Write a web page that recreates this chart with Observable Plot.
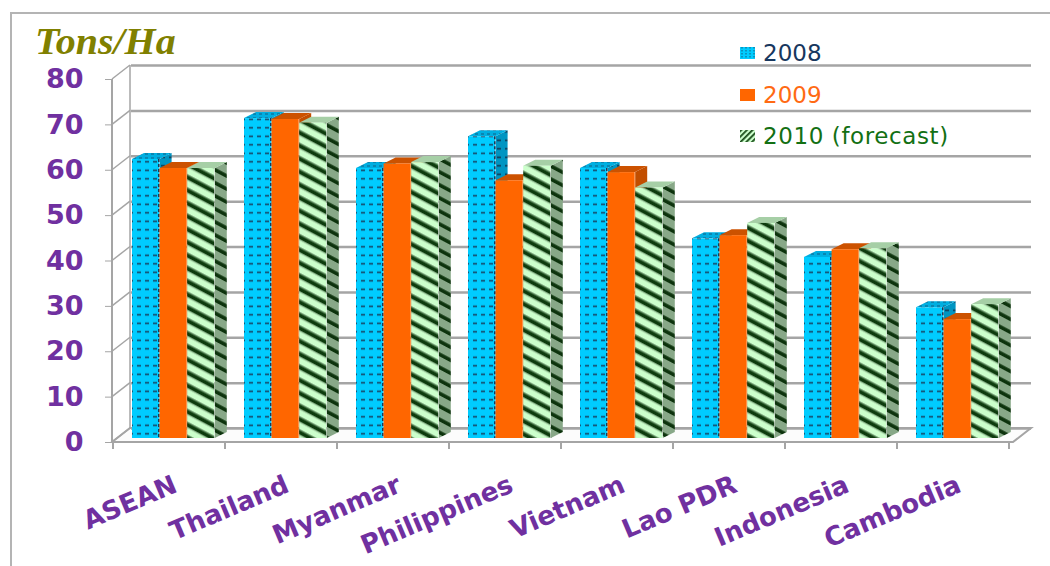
<!DOCTYPE html>
<html>
<head>
<meta charset="utf-8">
<script src="https://cdn.jsdelivr.net/npm/d3@7"></script>
<script src="https://cdn.jsdelivr.net/npm/@observablehq/plot@0.6"></script>
<style>
  body { margin: 0; background: #fff; }
  #wrap { position: relative; width: 1050px; height: 566px; overflow: hidden; background: #fff; }
  #frame { position: absolute; left: 10px; top: 12px; width: 1200px; height: 700px;
           border-left: 2px solid #b4b4b4; border-top: 2px solid #b4b4b4; }
  #title { position: absolute; left: 35px; top: 20px; line-height: 1; transform: scaleX(1.08); transform-origin: left top;
           font: italic bold 37px "Liberation Serif", "DejaVu Serif", serif; color: #808000; }
  #legend { position: absolute; left: 740px; top: 32px; font-family: "DejaVu Sans", sans-serif; font-size: 23px; }
  .item { display: flex; align-items: center; height: 41.7px; white-space: nowrap; }
  .item svg { margin-right: 8px; }
  #chart { position: absolute; left: 0; top: 0; }
</style>
</head>
<body>
<svg width="0" height="0" style="position:absolute">
  <defs>
    <pattern id="p2008" patternUnits="userSpaceOnUse" width="8" height="8.5">
      <rect width="8" height="8.5" fill="#00ccff"/>
      <rect x="1" y="3.5" width="4" height="1.6" fill="#1b2b48" opacity="0.85"/>
    </pattern>
    <pattern id="p2008side" patternUnits="userSpaceOnUse" width="8" height="8.5">
      <rect width="8" height="8.5" fill="#0095c2"/>
      <rect x="1" y="3.5" width="4" height="1.6" fill="#10203a" opacity="0.8"/>
    </pattern>
    <pattern id="p2008top" patternUnits="userSpaceOnUse" width="6" height="4">
      <rect width="6" height="4" fill="#00aee0"/>
      <rect x="1" y="1.5" width="3" height="1" fill="#1b2b48" opacity="0.6"/>
    </pattern>
    <pattern id="p2010" patternUnits="userSpaceOnUse" width="12" height="11.5" patternTransform="rotate(28)">
      <rect width="12" height="11.5" fill="#ccffcc"/>
      <rect y="0" width="12" height="1.2" fill="#7fa97f"/>
      <rect y="1.2" width="12" height="3.6" fill="#0d3b0d"/>
      <rect y="4.8" width="12" height="1.2" fill="#7fa97f"/>
    </pattern>
    <pattern id="p2010side" patternUnits="userSpaceOnUse" width="12" height="11.5" patternTransform="rotate(28)">
      <rect width="12" height="11.5" fill="#88a888"/>
      <rect y="1.2" width="12" height="3.6" fill="#0d330d"/>
    </pattern>
    <pattern id="pleg2008" patternUnits="userSpaceOnUse" width="4" height="3">
      <rect width="4" height="3" fill="#00ccff"/>
      <rect x="1.5" y="0" width="1" height="1.5" fill="#1b2b48" opacity="0.7"/>
    </pattern>
    <pattern id="pleg2010" patternUnits="userSpaceOnUse" width="4" height="4" patternTransform="rotate(-45)">
      <rect width="4" height="4" fill="#ccffcc"/>
      <rect y="0" width="4" height="1.8" fill="#1a4d1a"/>
    </pattern>
  </defs>
</svg>
<div id="wrap">
  <div id="frame"></div>
  <div id="title">Tons/Ha</div>
  <div id="legend"></div>
</div>
<script>
// ---------- data ----------
const categories = ["ASEAN", "Thailand", "Myanmar", "Philippines", "Vietnam", "Lao PDR", "Indonesia", "Cambodia"];
const years = ["2008", "2009", "2010 (forecast)"];
const v2008 = [61.5, 70.5, 59.5, 66.5, 59.5, 44.0, 39.9, 28.8];
const v2009 = [59.5, 70.3, 60.5, 56.8, 58.6, 44.7, 41.6, 26.2];
const v2010 = [59.5, 69.5, 60.8, 60.0, 55.2, 47.4, 41.8, 29.5];
const yTicks = [0, 10, 20, 30, 40, 50, 60, 70, 80];

// ---------- styles ----------
const seriesStyle = [
  {front: "url(#p2008)", side: "url(#p2008side)", top: "url(#p2008top)", text: "#17375e", swatch: "url(#pleg2008)"},
  {front: "#ff6600", side: "#c24e00", top: "#cc5200", text: "#ff6a13", swatch: "#ff6600"},
  {front: "url(#p2010)", side: "url(#p2010side)", top: "#a6cfa6", text: "#137013", swatch: "url(#pleg2010)"}
];
const seriesValues = [v2008, v2009, v2010];

const W = 1050, H = 566;
const ML = 113, MR = 37, MT = 79, MB = 124;
const band = (W - ML - MR) / categories.length;
const BAR_OFF = 17, BAR_W = 27.6, BAR_DY = -4;
const BDX = 12, BDY = -6;      // bar depth
const WX = 18, WY = -14;        // wall depth
const GRID = "#a5a5a5";
const PURPLE = "#7030a0";

const barMarks = seriesValues.map((vals, i) =>
  Plot.barY(categories.map((c, j) => ({category: c, value: vals[j]})), {
    x: "category", y: "value",
    fill: seriesStyle[i].front,
    insetLeft: BAR_OFF + i * BAR_W,
    insetRight: band - (BAR_OFF + (i + 1) * BAR_W),
    dy: BAR_DY
  })
);

const chart = Plot.plot({
  width: W, height: H,
  marginLeft: ML, marginRight: MR, marginTop: MT, marginBottom: MB,
  style: {background: "transparent", overflow: "visible"},
  x: {type: "band", domain: categories, padding: 0, axis: null},
  y: {domain: [0, 80], axis: null},
  marks: [
    Plot.ruleY(yTicks, {dx: WX, dy: WY, stroke: GRID, strokeWidth: 2.5}),
    ...barMarks,
    Plot.axisY({ticks: yTicks, tickSize: 8, tickPadding: 22, stroke: GRID, fill: PURPLE, label: null,
                fontSize: 27, fontWeight: "bold", fontFamily: "DejaVu Sans", tickFormat: d => d}),
    Plot.text(categories, {x: d => d, frameAnchor: "bottom", dy: 41, dx: 4, rotate: -23,
                textAnchor: "end", lineAnchor: "middle", fill: PURPLE,
                fontSize: 26, fontWeight: "bold", fontFamily: "DejaVu Sans"})
  ]
});
chart.id = "chart";
document.getElementById("wrap").insertBefore(chart, document.getElementById("title"));

// ---------- 3D decoration using Plot's own scales ----------
const xs = chart.scale("x"), ys = chart.scale("y");
const bw = xs.bandwidth;
const x0 = xs.range[0] - 1, x1 = xs.range[1];
const yb = ys.apply(0), yt = ys.apply(80);
const pts = a => a.map(p => p.join(",")).join(" ");

const walls = d3.create("svg:g").attr("aria-label", "walls");
walls.append("polygon")
  .attr("points", pts([[x0, yb], [x1, yb], [x1 + WX, yb + WY], [x0 + WX, yb + WY]]))
  .attr("fill", "#fcfcfc").attr("stroke", GRID).attr("stroke-width", 2);
walls.append("line").attr("x1", x0 + WX).attr("x2", x0 + WX)
  .attr("y1", yt + WY).attr("y2", yb + WY).attr("stroke", GRID).attr("stroke-width", 1.5);
walls.append("line").attr("x1", x0).attr("x2", x0)
  .attr("y1", yt).attr("y2", yb).attr("stroke", GRID).attr("stroke-width", 2);
for (const t of yTicks) {
  walls.append("line").attr("x1", x0).attr("y1", ys.apply(t))
    .attr("x2", x0 + WX).attr("y2", ys.apply(t) + WY).attr("stroke", GRID).attr("stroke-width", 1.5);
}
for (let k = 0; k <= categories.length; k++) {
  const xk = xs.range[0] + k * bw;
  walls.append("line").attr("x1", xk).attr("x2", xk).attr("y1", yb).attr("y2", yb + 7)
    .attr("stroke", GRID).attr("stroke-width", 2);
}
const firstG = chart.querySelector("g");
chart.insertBefore(walls.node(), firstG);

const barGroups = chart.querySelectorAll('g[aria-label="bar"]');
seriesValues.forEach((vals, i) => {
  const g = d3.create("svg:g").attr("aria-label", "bar-3d");
  categories.forEach((c, j) => {
    const l = xs.apply(c) + BAR_OFF + i * BAR_W;
    const r = l + BAR_W;
    const top = ys.apply(vals[j]) + BAR_DY;
    const bot = yb + BAR_DY;
    g.append("polygon").attr("points", pts([[r, top], [r + BDX, top + BDY], [r + BDX, bot + BDY], [r, bot]]))
      .attr("fill", seriesStyle[i].side);
    g.append("polygon").attr("points", pts([[l, top], [r, top], [r + BDX, top + BDY], [l + BDX, top + BDY]]))
      .attr("fill", seriesStyle[i].top);
  });
  chart.insertBefore(g.node(), barGroups[i]);
});

// dotted right edge on the 2008 front faces
const edge = d3.create("svg:g").attr("aria-label", "edge-2008");
categories.forEach((c, j) => {
  const r = xs.apply(c) + BAR_OFF + BAR_W - 0.8;
  edge.append("line").attr("x1", r).attr("x2", r)
    .attr("y1", ys.apply(v2008[j]) + BAR_DY).attr("y2", yb + BAR_DY)
    .attr("stroke", "#1b2b48").attr("stroke-width", 1.4).attr("stroke-dasharray", "3,2");
});
chart.insertBefore(edge.node(), barGroups[0].nextSibling);

// ---------- legend ----------
const legend = d3.select("#legend");
years.forEach((y, i) => {
  const it = legend.append("div").attr("class", "item");
  const s = it.append("svg").attr("width", 15).attr("height", 12);
  s.append("rect").attr("width", 15).attr("height", 12).attr("fill", seriesStyle[i].swatch);
  it.append("span").text(y).style("color", seriesStyle[i].text)
    .style("letter-spacing", i === 2 ? "0.6px" : "0px");
});
</script>
</body>
</html>
